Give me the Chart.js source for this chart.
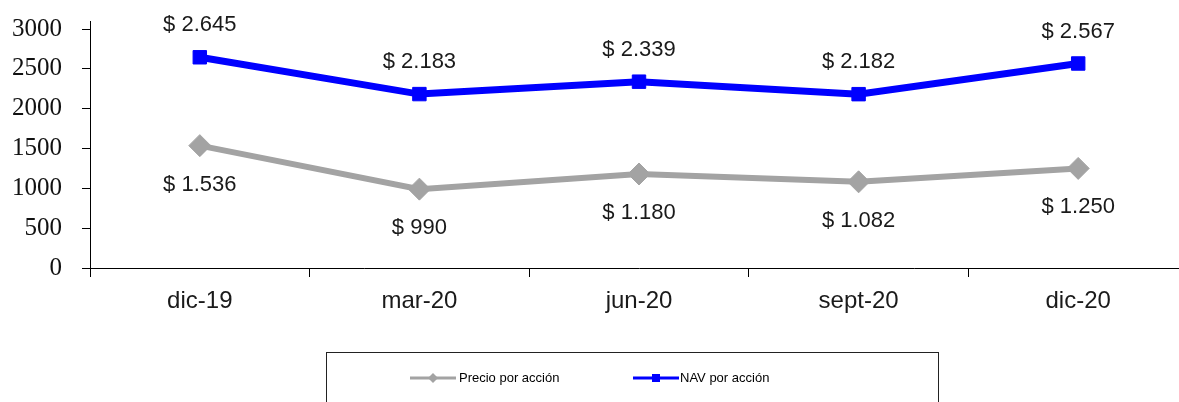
<!DOCTYPE html>
<html>
<head>
<meta charset="utf-8">
<script src="https://cdn.jsdelivr.net/npm/chart.js@4/dist/chart.umd.min.js"></script>
<style>
html,body{margin:0;padding:0;background:#fff;overflow:hidden;}
#wrap{position:relative;width:1179px;height:402px;overflow:hidden;}
canvas{display:block;}
</style>
</head>
<body>
<div id="wrap"><canvas id="c" width="1190" height="402" style="width:1190px;height:402px;"></canvas></div>
<script>
const categories = ['dic-19', 'mar-20', 'jun-20', 'sept-20', 'dic-20'];
const precioPorAccion = [1536, 990, 1180, 1082, 1250];
const navPorAccion = [2645, 2183, 2339, 2182, 2567];
const yTicks = [0, 500, 1000, 1500, 2000, 2500, 3000];
const seriesNames = ['Precio por acción', 'NAV por acción'];

const GRAY = '#a3a3a3';
const BLUE = '#0000ff';

function fmt(v) {
  return '$ ' + v.toLocaleString('de-DE');
}

const labelPlugin = {
  id: 'valueLabels',
  afterDatasetsDraw(chart) {
    const ctx = chart.ctx;
    ctx.save();
    ctx.font = '22px "Liberation Sans", Arial, sans-serif';
    ctx.fillStyle = '#1a1a1a';
    ctx.textAlign = 'center';
    ctx.textBaseline = 'middle';
    chart.data.datasets.forEach((ds, i) => {
      const meta = chart.getDatasetMeta(i);
      meta.data.forEach((pt, j) => {
        const off = i === 1 ? -32 : 39;
        ctx.fillText(fmt(ds.data[j]), pt.x, pt.y + off);
      });
    });
    ctx.restore();
  },
  afterDraw(chart) {
    const ctx = chart.ctx;
    const a = chart.chartArea;
    ctx.save();
    ctx.strokeStyle = '#000';
    ctx.lineWidth = 1;
    ctx.beginPath();
    ctx.moveTo(Math.round(a.left) + 0.5, a.top - 8);
    ctx.lineTo(Math.round(a.left) + 0.5, a.top);
    ctx.stroke();
    // legend box
    ctx.strokeStyle = '#222';
    ctx.strokeRect(326.5, 352.5, 612, 60);
    ctx.font = '13px "Liberation Sans Narrow", "Liberation Sans", Arial, sans-serif';
    ctx.textBaseline = 'middle';
    ctx.textAlign = 'left';
    const ly = 378;
    ctx.strokeStyle = GRAY; ctx.lineWidth = 3;
    ctx.beginPath(); ctx.moveTo(410, ly); ctx.lineTo(456, ly); ctx.stroke();
    ctx.fillStyle = GRAY;
    ctx.beginPath(); ctx.moveTo(433, ly - 5); ctx.lineTo(438, ly); ctx.lineTo(433, ly + 5); ctx.lineTo(428, ly); ctx.closePath(); ctx.fill();
    ctx.fillStyle = '#000';
    ctx.fillText(seriesNames[0], 459, ly);
    ctx.strokeStyle = BLUE; ctx.lineWidth = 3;
    ctx.beginPath(); ctx.moveTo(633, ly); ctx.lineTo(679, ly); ctx.stroke();
    ctx.fillStyle = BLUE;
    ctx.fillRect(652, ly - 4, 8, 8);
    ctx.fillStyle = '#000';
    ctx.fillText(seriesNames[1], 680, ly);
    ctx.restore();
  }
};

new Chart(document.getElementById('c'), {
  type: 'line',
  data: {
    labels: categories,
    datasets: [
      {
        label: seriesNames[0],
        data: precioPorAccion,
        borderColor: GRAY,
        backgroundColor: GRAY,
        borderWidth: 6,
        pointStyle: 'rectRot',
        pointRadius: 11,
        pointBorderWidth: 1,
        pointBackgroundColor: GRAY,
        pointBorderColor: GRAY,
        tension: 0
      },
      {
        label: seriesNames[1],
        data: navPorAccion,
        borderColor: BLUE,
        backgroundColor: BLUE,
        borderWidth: 7,
        pointStyle: 'rect',
        pointRadius: 9.5,
        pointBorderWidth: 1,
        pointBackgroundColor: BLUE,
        pointBorderColor: BLUE,
        tension: 0
      }
    ]
  },
  options: {
    responsive: false,
    maintainAspectRatio: false,
    devicePixelRatio: 1,
    animation: false,
    events: [],
    layout: { autoPadding: false, padding: { top: 29, left: 0, right: 2, bottom: 0 } },
    plugins: {
      legend: { display: false },
      tooltip: { enabled: false }
    },
    scales: {
      x: {
        type: 'category',
        offset: true,
        grid: {
          display: true,
          offset: true,
          drawOnChartArea: false,
          drawTicks: true,
          tickLength: 9,
          color: '#000'
        },
        border: { display: true, color: '#000', width: 1 },
        ticks: {
          color: '#1a1a1a',
          font: { family: '"Liberation Sans", Arial, sans-serif', size: 24 },
          padding: 10,
          maxRotation: 0,
          autoSkip: false
        },
        afterFit(scale) { scale.height = 134; }
      },
      y: {
        min: 0,
        max: 3000,
        afterBuildTicks(scale) { scale.ticks = yTicks.map(v => ({ value: v })); },
        grid: {
          display: true,
          drawOnChartArea: false,
          drawTicks: true,
          tickLength: 8,
          color: '#000'
        },
        border: { display: true, color: '#000', width: 1 },
        ticks: {
          color: '#111',
          font: { family: '"Liberation Serif", "Times New Roman", serif', size: 25 },
          padding: 20,
          callback: (v) => String(v)
        },
        afterFit(scale) {
          scale.width = 90;
          scale.paddingTop = 10;
          scale.paddingBottom = 10;
        }
      }
    }
  },
  plugins: [labelPlugin]
});
</script>
</body>
</html>
